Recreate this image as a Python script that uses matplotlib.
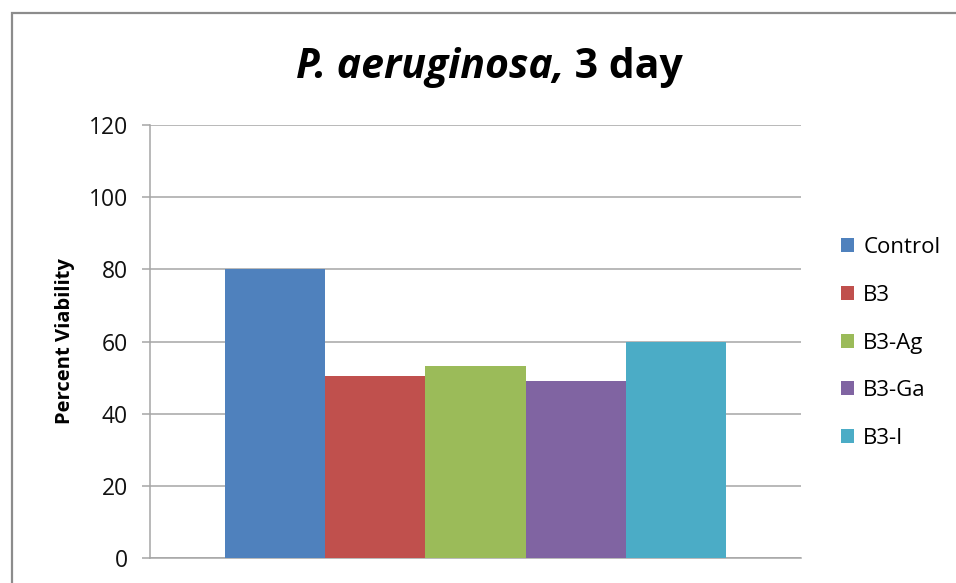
import matplotlib
matplotlib.use("Agg")
import matplotlib.pyplot as plt
from matplotlib.patches import Rectangle
import numpy as np

series = ["Control", "B3", "B3-Ag", "B3-Ga", "B3-I"]
values = [80, 50.5, 53.3, 49, 60]
colors = ["#4F81BD", "#C0504D", "#9BBB59", "#8064A2", "#4BACC6"]
yticks = [0, 20, 40, 60, 80, 100, 120]

plt.rcParams['font.family'] = ['Open Sans', 'DejaVu Sans']

W, H = 956, 583
fig = plt.figure(figsize=(W / 100, H / 100), dpi=100)
ax = fig.add_axes([150 / W, 1 - 558 / H, (801 - 150) / W, (558 - 125) / H])

n = len(series)
bar_w = 100.2 / 651  # fraction of category width
for i, (s, v, c) in enumerate(zip(series, values, colors)):
    x = (i - (n - 1) / 2) * bar_w
    ax.bar(x, v, width=bar_w, color=c, label=s, zorder=3, edgecolor='none')

ax.set_xlim(-0.5, 0.5)
ax.set_ylim(0, 120)
ax.set_yticks(yticks)
ax.set_yticklabels([str(t) for t in yticks], fontsize=16.5)
ax.set_xticks([])
ax.grid(axis='y', color='#a6a6a6', linewidth=1.1, zorder=0)
for sp in ['top', 'right']:
    ax.spines[sp].set_visible(False)
ax.spines['left'].set_color('#a6a6a6')
ax.spines['left'].set_linewidth(1.1)
ax.spines['bottom'].set_color('#a6a6a6')
ax.spines['bottom'].set_linewidth(1.1)
ax.tick_params(axis='y', length=6, width=1.1, color='#a6a6a6', pad=10, labelcolor='#111111')

ax.set_ylabel("Percent Viability", fontsize=14.5, fontweight='bold', labelpad=10)

leg = ax.legend(loc='center left', bbox_to_anchor=(830 / W, 1 - 343 / H),
                bbox_transform=fig.transFigure, frameon=False, fontsize=16,
                handlelength=0.6, handleheight=0.6, handletextpad=0.4,
                labelspacing=1.2, borderpad=0)

# Title in two styles
fig.canvas.draw()
r = fig.canvas.get_renderer()
t1 = fig.text(0, 0, "P. aeruginosa,", fontsize=29.5, fontweight='bold', style='italic')
t2 = fig.text(0, 0, " 3 day", fontsize=29.5, fontweight='bold')
w1 = t1.get_window_extent(r).width
w2 = t2.get_window_extent(r).width
cx = 489
x0 = cx - (w1 + w2) / 2
ty = 1 - 78 / H
t1.set_position((x0 / W, ty))
t2.set_position(((x0 + w1) / W, ty))

fig.add_artist(Rectangle((11.5 / W, -0.2), 1.5, (H - 12.5) / H + 0.2,
                         transform=fig.transFigure, fill=False,
                         edgecolor='#8c8c8c', linewidth=1.6))

fig.savefig("out.png", dpi=100)
